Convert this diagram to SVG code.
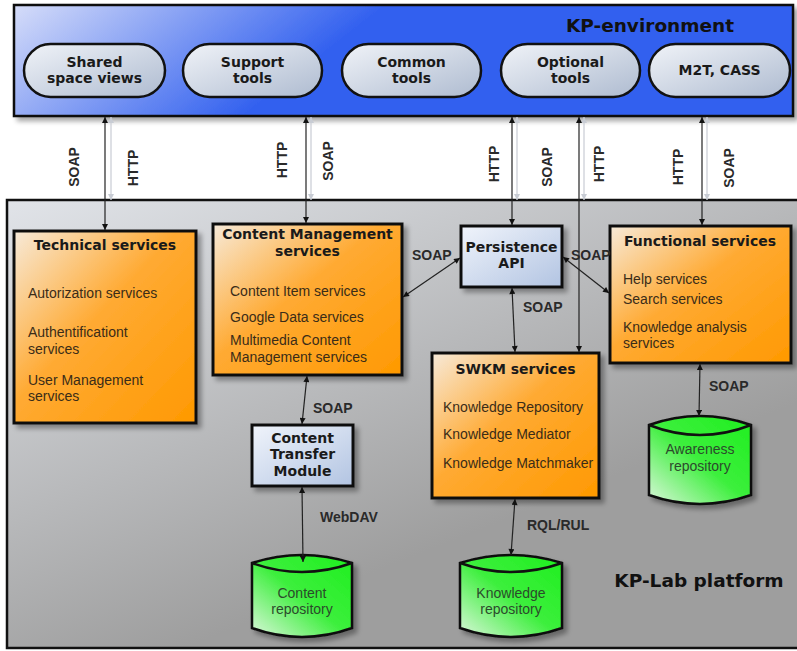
<svg xmlns="http://www.w3.org/2000/svg" width="797" height="651" viewBox="0 0 797 651">
<defs>
<linearGradient id="gEnv" gradientUnits="userSpaceOnUse" x1="20" y1="0" x2="160" y2="180">
<stop offset="0" stop-color="#d6ddf9"/><stop offset="1" stop-color="#3361ef"/>
</linearGradient>
<linearGradient id="gPlat" gradientUnits="userSpaceOnUse" x1="0" y1="200" x2="180" y2="650">
<stop offset="0" stop-color="#e1e4e9"/><stop offset="1" stop-color="#9e9e9e"/>
</linearGradient>
<linearGradient id="gPill" x1="0" y1="0" x2="1" y2="1">
<stop offset="0" stop-color="#f0f3f8"/><stop offset="1" stop-color="#aebbd0"/>
</linearGradient>
<linearGradient id="gBlue" x1="0" y1="0" x2="1" y2="1">
<stop offset="0" stop-color="#f0f4fb"/><stop offset="1" stop-color="#b2c4e2"/>
</linearGradient>
<linearGradient id="gOr" x1="0" y1="0" x2="1" y2="1">
<stop offset="0" stop-color="#f7ead9"/><stop offset="0.45" stop-color="#ffaa33"/><stop offset="1" stop-color="#ff9900"/>
</linearGradient>
<linearGradient id="gGr" x1="1" y1="0" x2="0" y2="1">
<stop offset="0" stop-color="#1fef1f"/><stop offset="0.5" stop-color="#3cef3c"/><stop offset="1" stop-color="#dcf7dc"/>
</linearGradient>
<filter id="sh" x="-10%" y="-10%" width="130%" height="130%">
<feGaussianBlur in="SourceAlpha" stdDeviation="2.5"/>
<feOffset dx="4" dy="4" result="b"/>
<feComponentTransfer><feFuncA type="linear" slope="0.35"/></feComponentTransfer>
<feMerge><feMergeNode/><feMergeNode in="SourceGraphic"/></feMerge>
</filter>
<marker id="ah" viewBox="0 0 10 10" refX="10" refY="5" markerWidth="7" markerHeight="6" markerUnits="userSpaceOnUse" orient="auto-start-reverse">
<path d="M0,0 L10,5 L0,10 z" fill="#111"/>
</marker>
<marker id="ahs" viewBox="0 0 10 10" refX="10" refY="5" markerWidth="7" markerHeight="6" markerUnits="userSpaceOnUse" orient="auto-start-reverse">
<path d="M0,0 L10,5 L0,10 z" fill="#c8ccd4"/>
</marker>
<style>
.box{stroke:#111;stroke-width:3}
.pill{fill:url(#gPill);stroke:#111;stroke-width:2.5}
.or{fill:url(#gOr)}
.bl{fill:url(#gBlue)}
.cyl{fill:url(#gGr);stroke:#111;stroke-width:2.5}
.t{font-family:"DejaVu Sans",Verdana,sans-serif;font-weight:bold;font-size:14px;fill:#1a1a1a;text-anchor:middle}
.big{font-family:"DejaVu Sans",Verdana,sans-serif;font-weight:bold;font-size:18.5px;fill:#111;text-anchor:middle}
.it{font-family:"Liberation Sans",Arial,sans-serif;font-size:14px;fill:#3a2c18}
.rp{font-family:"Liberation Sans",Arial,sans-serif;font-size:14px;fill:#2c4a2c;text-anchor:middle}
.lb{font-family:"Liberation Sans",Arial,sans-serif;font-weight:bold;font-size:14px;fill:#2a2a2a}
.lbm{font-family:"Liberation Sans",Arial,sans-serif;font-weight:bold;font-size:14px;fill:#2a2a2a;text-anchor:middle}
.c{stroke:#222;stroke-width:1.2;fill:none;marker-start:url(#ah);marker-end:url(#ah)}
.cs{stroke:#c8ccd4;stroke-width:1.2;fill:none;marker-start:url(#ahs);marker-end:url(#ahs)}
</style>
</defs>

<g id="kp-lab-platform">
<rect x="7" y="200" width="800" height="448" fill="url(#gPlat)" stroke="#111" stroke-width="2.5"/>
<text class="big" x="699" y="587">KP-Lab platform</text>
</g>

<g id="kp-environment">
<rect x="14" y="5" width="779" height="111" fill="url(#gEnv)" stroke="#111" stroke-width="2.5" filter="url(#sh)"/>
<text class="big" x="650" y="32">KP-environment</text>
</g>

<g id="connector-shadows">
<line class="cs" x1="111" y1="117" x2="111" y2="200"/>
<line class="cs" x1="311" y1="117" x2="311" y2="200"/>
<line class="cs" x1="517" y1="117" x2="517" y2="200"/>
<line class="cs" x1="584" y1="117" x2="584" y2="200"/>
<line class="cs" x1="707" y1="117" x2="707" y2="200"/>
</g>

<g id="shared-space-views"><rect class="pill" x="24" y="44" width="141" height="53" rx="26.5"/><text class="t" x="94.5" y="67">Shared</text><text class="t" x="94.5" y="83">space views</text></g>
<g id="support-tools"><rect class="pill" x="183" y="44" width="139" height="53" rx="26.5"/><text class="t" x="252.5" y="67">Support</text><text class="t" x="252.5" y="83">tools</text></g>
<g id="common-tools"><rect class="pill" x="342" y="44" width="139" height="53" rx="26.5"/><text class="t" x="411.5" y="67">Common</text><text class="t" x="411.5" y="83">tools</text></g>
<g id="optional-tools"><rect class="pill" x="501" y="44" width="139" height="53" rx="26.5"/><text class="t" x="570.5" y="67">Optional</text><text class="t" x="570.5" y="83">tools</text></g>
<g id="m2t-cass"><rect class="pill" x="649" y="44" width="141" height="53" rx="26.5"/><text class="t" x="719.5" y="75">M2T, CASS</text></g>

<g id="technical-services">
<rect class="box or" x="14" y="231" width="182" height="192" filter="url(#sh)"/>
<text class="t" x="105" y="250">Technical services</text>
<text class="it" x="28" y="298">Autorization services</text>
<text class="it" x="28" y="337">Authentificationt</text>
<text class="it" x="28" y="354">services</text>
<text class="it" x="28" y="385">User Management</text>
<text class="it" x="28" y="401">services</text>
</g>

<g id="content-management-services">
<rect class="box or" x="213" y="224" width="189" height="151" filter="url(#sh)"/>
<text class="t" x="307.5" y="239">Content Management</text>
<text class="t" x="307.5" y="256">services</text>
<text class="it" x="230" y="296">Content Item services</text>
<text class="it" x="230" y="322">Google Data services</text>
<text class="it" x="230" y="345">Multimedia Content</text>
<text class="it" x="230" y="362">Management services</text>
</g>

<g id="persistence-api">
<rect class="box bl" x="461" y="226" width="101" height="61" filter="url(#sh)"/>
<text class="t" x="511.5" y="252">Persistence</text>
<text class="t" x="511.5" y="268">API</text>
</g>

<g id="functional-services">
<rect class="box or" x="610" y="226" width="181" height="137" filter="url(#sh)"/>
<text class="t" x="700" y="246">Functional services</text>
<text class="it" x="623" y="284">Help services</text>
<text class="it" x="623" y="304">Search services</text>
<text class="it" x="623" y="332">Knowledge analysis</text>
<text class="it" x="623" y="348">services</text>
</g>

<g id="swkm-services">
<rect class="box or" x="432" y="353" width="167" height="145" filter="url(#sh)"/>
<text class="t" x="515.5" y="374">SWKM services</text>
<text class="it" x="443" y="412">Knowledge Repository</text>
<text class="it" x="443" y="439">Knowledge Mediator</text>
<text class="it" x="443" y="468">Knowledge Matchmaker</text>
</g>

<g id="content-transfer-module">
<rect class="box bl" x="252" y="425" width="101" height="61" filter="url(#sh)"/>
<text class="t" x="302.5" y="443">Content</text>
<text class="t" x="302.5" y="459">Transfer</text>
<text class="t" x="302.5" y="476">Module</text>
</g>

<g id="content-repository">
<path class="cyl" d="M252,563 Q302,547 352,563 L352,628 Q302,646 252,628 Z" filter="url(#sh)"/>
<path d="M252,563 Q302,581 352,563" fill="none" stroke="#111" stroke-width="2.5"/>
<text class="rp" x="302" y="598">Content</text>
<text class="rp" x="302" y="614">repository</text>
</g>

<g id="knowledge-repository">
<path class="cyl" d="M460,563 Q511,547 562,563 L562,628 Q511,646 460,628 Z" filter="url(#sh)"/>
<path d="M460,563 Q511,581 562,563" fill="none" stroke="#111" stroke-width="2.5"/>
<text class="rp" x="511" y="598">Knowledge</text>
<text class="rp" x="511" y="614">repository</text>
</g>

<g id="awareness-repository">
<path class="cyl" d="M649,425 Q700,407 751,425 L751,495 Q700,513 649,495 Z" filter="url(#sh)"/>
<path d="M649,425 Q700,445 751,425" fill="none" stroke="#111" stroke-width="2.5"/>
<text class="rp" x="700" y="454">Awareness</text>
<text class="rp" x="700" y="471">repository</text>
</g>

<g id="connectors">
<line class="c" x1="105" y1="117" x2="105" y2="230"/>
<line class="c" x1="306" y1="117" x2="306" y2="223"/>
<line class="c" x1="512" y1="117" x2="512" y2="225"/>
<line class="c" x1="579" y1="117" x2="579" y2="352"/>
<line class="c" x1="702" y1="117" x2="702" y2="225"/>
<line class="c" x1="460" y1="258" x2="403" y2="297"/>
<line class="c" x1="563" y1="257" x2="609" y2="293"/>
<line class="c" x1="512" y1="288" x2="515" y2="352"/>
<line class="c" x1="307" y1="376" x2="302" y2="424"/>
<line class="c" x1="302" y1="487" x2="303" y2="562"/>
<line class="c" x1="515" y1="499" x2="511" y2="555"/>
<line class="c" x1="700" y1="364" x2="699" y2="416"/>
</g>

<g id="connector-labels">
<text class="lbm" transform="translate(79,167) rotate(-90)">SOAP</text>
<text class="lbm" transform="translate(138,168) rotate(-90)">HTTP</text>
<text class="lbm" transform="translate(287,160) rotate(-90)">HTTP</text>
<text class="lbm" transform="translate(333,161) rotate(-90)">SOAP</text>
<text class="lbm" transform="translate(499,164) rotate(-90)">HTTP</text>
<text class="lbm" transform="translate(552,167) rotate(-90)">SOAP</text>
<text class="lbm" transform="translate(604,164) rotate(-90)">HTTP</text>
<text class="lbm" transform="translate(683,167) rotate(-90)">HTTP</text>
<text class="lbm" transform="translate(734,168) rotate(-90)">SOAP</text>
<text class="lb" x="412" y="260">SOAP</text>
<text class="lb" x="571" y="260">SOAP</text>
<text class="lb" x="523" y="312">SOAP</text>
<text class="lb" x="313" y="413">SOAP</text>
<text class="lb" x="709" y="391">SOAP</text>
<text class="lb" x="320" y="522">WebDAV</text>
<text class="lb" x="527" y="530">RQL/RUL</text>
</g>
</svg>
